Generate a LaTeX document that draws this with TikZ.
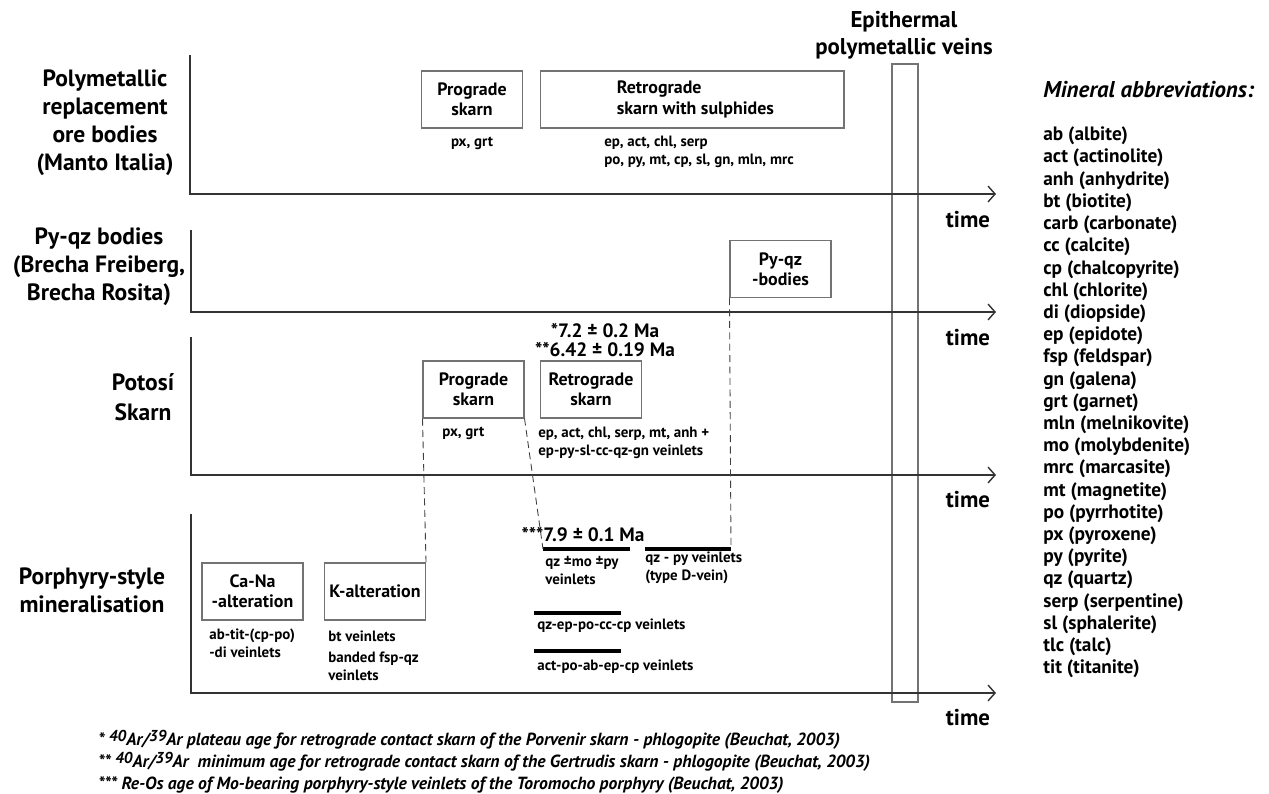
\documentclass[tikz,border=0pt]{standalone}
\usepackage{fontspec}
\setmainfont{PT Sans}
\usetikzlibrary{positioning,arrows.meta}

\newcommand{\isotope}[1]{\raisebox{2.2pt}{\fontsize{9}{10}\selectfont #1}}

\tikzset{
  axis/.style={draw=black!80, line width=1.1pt, -{Straight Barb[length=4pt,width=9pt,line width=0.8pt]}},
  stage/.style={draw=black!55, line width=0.6pt, minimum width=2.02cm, minimum height=1.14cm, inner sep=0pt, align=center, font=\fontsize{10.2}{11.5}\selectfont\bfseries},
  boxtext/.style={inner sep=0pt, align=left, font=\fontsize{10.2}{11.5}\selectfont\bfseries},
  vein/.style={line width=1.8pt},
  link/.style={draw=black!75, line width=0.5pt, dash pattern=on 4pt off 2.5pt},
  rowtitle/.style={align=center, inner sep=0pt, font=\fontsize{13.4}{15.9}\selectfont\bfseries},
  timelabel/.style={inner sep=0pt, font=\fontsize{13}{15}\selectfont\bfseries},
  minerals/.style={align=left, inner sep=0pt, font=\fontsize{8.5}{10}\selectfont\bfseries},
  age/.style={align=center, inner sep=0pt, font=\fontsize{11}{10.8}\selectfont\bfseries}
}

\begin{document}
\begin{tikzpicture}[x=0.02cm, y=-0.02cm]
\useasboundingbox (0,0) rectangle (1269,794);
\coordinate (top1) at (190,55);
\coordinate (end1) at (996,194);
\coordinate (top2) at (191,230);
\coordinate (end2) at (996,312);
\coordinate (top3) at (191,337);
\coordinate (end3) at (996,475);
\coordinate (top4) at (191,514);
\coordinate (end4) at (996,693);
\draw[draw=black!55, line width=0.6pt] (892,64) rectangle (918,702); % Epithermal veins
\draw[axis] (top1) |- (end1); % Manto Italia
\draw[axis] (top2) |- (end2); % Py-qz bodies
\draw[axis] (top3) |- (end3); % Potosi skarn
\draw[axis] (top4) |- (end4); % Porphyry
\node[timelabel] (time1) at (968,220) {time};
\node[timelabel] (time2) at (968,338) {time};
\node[timelabel] (time3) at (968,500) {time};
\node[timelabel] (time4) at (968,718) {time};
%% Row titles
\node[rowtitle] (title1) at (105,123) {Polymetallic\\replacement\\ore bodies\\(Manto Italia)};
\node[rowtitle] (title2) at (99,267) {Py-qz bodies\\(Brecha Freiberg,\\Brecha Rosita)};
\node[rowtitle, font=\fontsize{13.4}{17}\selectfont\bfseries] (title3) at (143,397) {Potosí\\Skarn};
\node[rowtitle] (title4) at (92,590) {Porphyry-style\\mineralisation};
\node[rowtitle, font=\fontsize{13}{15.3}\selectfont\bfseries] (epi) at (904,35) {Epithermal\\polymetallic veins};
%% Manto Italia
\node[stage] (prog1) at (472,99.5) {Prograde\\skarn};
\node[minerals, below=1.7mm of prog1] (prog1min) {px, grt};
\node[stage, minimum width=6.08cm] (retro1) at (692,99.5) {};
\node[boxtext, right=1.54cm of retro1.west] (retro1txt) {Retrograde\\skarn with sulphides};
\node[minerals, anchor=west] (retro1min) at (604,152) {ep, act, chl, serp\\po, py, mt, cp, sl, gn, mln, mrc};
%% Py-qz bodies
\node[stage] (pyqz) at (780.5,269) {Py-qz\\-bodies};
%% Potosi skarn
\node[age] (ages) at (605,340) {*7.2 ± 0.2 Ma\\**6.42 ± 0.19 Ma};
\node[stage] (prog3) at (473.5,389.5) {Prograde\\skarn};
\node[minerals, anchor=west] (prog3min) at (442,433) {px, grt};
\node[stage] (retro3) at (591,389.5) {Retrograde\\skarn};
\node[minerals, anchor=west] (retro3min) at (538,443) {ep, act, chl, serp, mt, anh +\\ep-py-sl-cc-qz-gn veinlets};
%% Porphyry
\node[stage] (cana) at (252.5,591.5) {Ca-Na\\-alteration};
\node[minerals, anchor=west] (canamin) at (209,643.5) {ab-tit-(cp-po)\\-di veinlets};
\node[stage] (kalt) at (375,591.5) {K-alteration};
\node[minerals, anchor=west] (kaltmin) at (328,636) {bt veinlets};
\node[minerals, anchor=west] (kaltmin2) at (328,666.5) {banded fsp-qz\\veinlets};
\node[age] (age3) at (583,535) {***7.9 ± 0.1 Ma};
\coordinate (qzmoA) at (543,549);
\coordinate (qzmoB) at (630,549);
\coordinate (qzpyA) at (645,549);
\coordinate (qzpyB) at (731,549);
\coordinate (qzepA) at (534,613);
\coordinate (qzepB) at (621,613);
\coordinate (actA) at (534,651);
\coordinate (actB) at (621,651);
\draw[vein] (qzmoA) -- (qzmoB); % qz-mo-py
\draw[vein] (qzpyA) -- (qzpyB); % D-veins
\draw[vein] (qzepA) -- (qzepB); % qz-ep-po
\draw[vein] (actA) -- (actB); % act-po-ab
\node[minerals, anchor=west] (qzmomin) at (545,570.5) {qz ±mo ±py\\veinlets};
\node[minerals, anchor=west] (qzpymin) at (645,568) {qz - py veinlets\\(type D-vein)};
\node[minerals, anchor=west] (qzepmin) at (537,626) {qz-ep-po-cc-cp veinlets};
\node[minerals, anchor=west] (actmin) at (537,667) {act-po-ab-ep-cp veinlets};
%% Links between rows
\draw[link] (prog3.south west) -- (kalt.north east);
\draw[link] (prog3.south east) -- (qzmoA);
\draw[link] (pyqz.south west) -- (qzpyB);
%% Abbreviations and notes
\node[anchor=west, inner sep=0pt, font=\fontsize{13}{14}\selectfont\bfseries\itshape] (abbr) at (1043,90) {Mineral abbreviations:};
\node[anchor=west, align=left, inner sep=0pt, font=\fontsize{11}{12.64}\selectfont\bfseries] (abbrlist) at (1043,402.5) {ab (albite)\\act (actinolite)\\anh (anhydrite)\\bt (biotite)\\carb (carbonate)\\cc (calcite)\\cp (chalcopyrite)\\chl (chlorite)\\di (diopside)\\ep (epidote)\\fsp (feldspar)\\gn (galena)\\grt (garnet)\\mln (melnikovite)\\mo (molybdenite)\\mrc (marcasite)\\mt (magnetite)\\po (pyrrhotite)\\px (pyroxene)\\py (pyrite)\\qz (quartz)\\serp (serpentine)\\sl (sphalerite)\\tlc (talc)\\tit (titanite)};
\node[anchor=west, align=left, inner sep=0pt, font=\fontsize{10}{12.5}\selectfont\bfseries\itshape] (notes) at (98,762) {* \isotope{40}Ar/\isotope{39}Ar plateau age for retrograde contact skarn of the Porvenir skarn - phlogopite (Beuchat, 2003)\\** \isotope{40}Ar/\isotope{39}Ar\ \ minimum age for retrograde contact skarn of the Gertrudis skarn - phlogopite (Beuchat, 2003)\\*** Re-Os age of Mo-bearing porphyry-style veinlets of the Toromocho porphyry (Beuchat, 2003)};
\end{tikzpicture}
\end{document}
